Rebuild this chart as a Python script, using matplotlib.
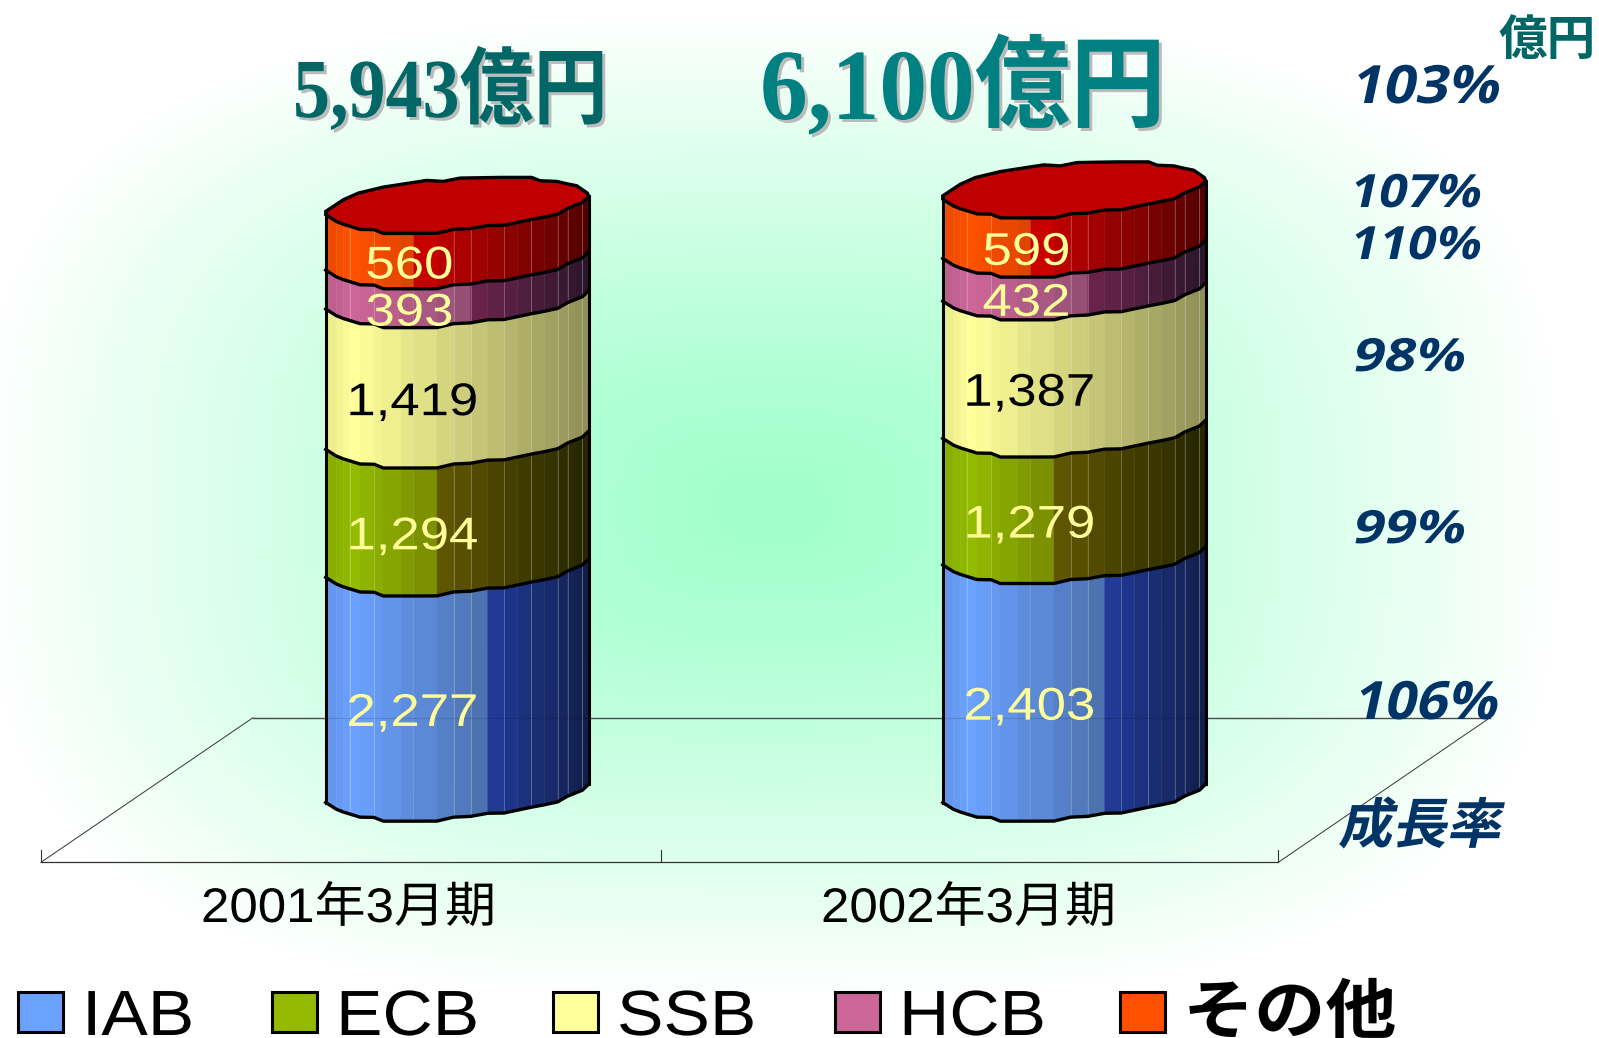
from matplotlib import pyplot
from matplotlib import patches
from matplotlib import patheffects
from matplotlib.colors import to_rgb
from matplotlib.transforms import Affine2D
import numpy as np

categories = ['2001年3月期', '2002年3月期']
series_names = ['IAB', 'ECB', 'SSB', 'HCB', 'その他']
iab_values = [2277, 2403]
ecb_values = [1294, 1279]
ssb_values = [1419, 1387]
hcb_values = [393, 432]
other_values = [560, 599]
value_labels = [['2,277', '1,294', '1,419', '393', '560'], ['2,403', '1,279', '1,387', '432', '599']]
total_labels = ['5,943億円', '6,100億円']
growth_labels = ['103%', '107%', '110%', '98%', '99%', '106%']

W, H = 1599, 1038
PX_PER_VALUE = 0.0989
BASE_Y = 802.5
BAR_LEFT = [325.7, 942.7]
SERIF = ['Liberation Serif', 'Noto Sans CJK JP']
SANS = ['Liberation Sans', 'Noto Sans CJK JP']
BOLD_SANS = ['Open Sans', 'Noto Sans CJK JP']

# cylinder shape, in pixels from the left corner of a band
edge_x = np.array([0, 9, 32, 53, 72, 103, 145, 173, 225, 263, 334, 384, 435, 486, 535, 576, 617, 656, 696, 726, 748, 770, 789]) / 3
front_x = np.array([0, 38, 103, 143, 173, 333, 383, 433, 488, 533, 618, 693, 723, 748, 773, 789]) / 3
front_y = np.array([0, 24, 44, 44, 56, 56, 44, 42, 32, 32, 14, 0, -18, -28, -38, -55]) / 3
back_x = np.array([789, 785, 753, 723, 693, 643, 618, 523, 403, 353, 303, 173, 98, 53, 0]) / 3
back_y = np.array([-55, -65, -87, -93, -100, -102, -112, -112, -110, -100, -103, -83, -65, -45, -10]) / 3
hairlines = np.array([72, 144, 384, 435, 534, 615, 697, 727, 770]) / 3

# lit colour, colour just before the break, first and last colour after it
shades = [
    ['#6BA1FF', '#486CA5', '#203A96', '#101C46'],
    ['#93BB00', '#738200', '#5F5500', '#232300'],
    ['#FFFF99', '#8C8C55', '#8C8C55', '#8C8C55'],
    ['#CC6699', '#8C4B6E', '#69234B', '#281428'],
    ['#FF5000', '#D74100', '#C80000', '#500000'],
]
breaks = [486, 334, 789, 435, 263]
swatch_colors = ['#6BA1FF', '#93B900', '#FFFF99', '#CC6699', '#FF5000']
label_colors = ['#FFFF99', '#FFFF99', 'black', '#FFFF99', '#FFFF99']


class Warp(patheffects.AbstractPathEffect):
    # squeezes or slants real text, matplotlib has no option for it
    def __init__(self, sx=1.0, sy=1.0, skew=0, dx=0, dy=0, color=None):
        self.sx, self.sy, self.skew, self.dx, self.dy = sx, sy, skew, dx, dy
        self.color = to_rgb(color) if color else None

    def draw_path(self, renderer, gc, tpath, affine, rgbFace=None):
        trans = Affine2D().scale(self.sx, self.sy).skew_deg(self.skew, 0) + affine + Affine2D().translate(self.dx, -self.dy)
        renderer.draw_path(gc, tpath, trans, self.color if self.color else rgbFace)


def hex_rgb(c):
    return np.array(to_rgb(c))


def strip_color(n, x):
    lit, mid, dark0, dark1 = shades[n]
    brk = breaks[n] / 3
    peak = 72 / 3
    if x < peak:
        return hex_rgb(lit) * (0.92 + 0.08 * x / peak)
    if x < brk - 0.01:
        t = (x - peak) / (brk - peak)
        return hex_rgb(lit) * (1 - t) + hex_rgb(mid) * t
    t = (x - brk) / (edge_x[-1] - brk)
    return hex_rgb(dark0) * (1 - t) + hex_rgb(dark1) * t


def draw_background(ax):
    xx, yy = np.meshgrid(np.arange(0, W, 3), np.arange(0, H, 3))
    dist = ((np.abs(xx - 770) / 790) ** 3 + (np.abs(yy - 505) / 490) ** 3) ** (1 / 3)
    t = np.clip(dist, 0, 1)[..., None] ** 1.3
    img = hex_rgb('#A0FFCC') * (1 - t) + np.array([1.0, 1.0, 1.0]) * t
    ax.imshow(img, extent=(0, W, H, 0), aspect='auto', interpolation='bilinear', zorder=0)


def draw_floor(ax):
    c = '#333333'
    ax.plot([253, 1490], [717.7, 717.7], color='#555555', linewidth=1.0, zorder=1)
    ax.plot([41, 1278.3], [862.3, 862.3], color=c, linewidth=0.9, zorder=1)
    ax.plot([41, 253], [862.3, 717.7], color=c, linewidth=0.7, zorder=1)
    ax.plot([1278.3, 1490], [862.3, 717.7], color=c, linewidth=0.7, zorder=1)
    for x in [41, 661, 1278.3]:
        ax.plot([x, x], [850, 862.3], color=c, linewidth=0.8, zorder=1)


def draw_cylinder(ax, left, values):
    tops = np.cumsum(values)
    bottoms = tops - np.array(values)
    fy = np.interp(edge_x, front_x, front_y) / PX_PER_VALUE
    for n in range(len(values)):
        low = bottoms[n] - fy
        high = tops[n] - fy
        for i in range(len(edge_x) - 1):
            xs = [left + edge_x[i], left + edge_x[i + 1], left + edge_x[i + 1], left + edge_x[i]]
            ys = [low[i], low[i + 1], high[i + 1], high[i]]
            ax.fill(xs, ys, color=strip_color(n, edge_x[i]), linewidth=0.3, zorder=3)
    for x in hairlines:
        ax.plot([left + x, left + x], [tops[-1] - np.interp(x, edge_x, fy), -np.interp(x, edge_x, fy)],
                color='white', alpha=0.28, linewidth=0.6, zorder=4)
    for n in range(len(values)):
        ax.plot(left + edge_x, bottoms[n] - fy, color='black', linewidth=2.4, zorder=5)
    rim_x = np.concatenate([left + edge_x, left + back_x])
    rim_y = np.concatenate([tops[-1] - fy, tops[-1] - back_y / PX_PER_VALUE])
    ax.fill(rim_x, rim_y, facecolor='#C00000', edgecolor='black', linewidth=2.4, zorder=6)
    ax.plot([left, left], [-fy[0], tops[-1] - back_y[-1] / PX_PER_VALUE], color='black', linewidth=2.2, zorder=6)
    ax.plot([left + edge_x[-1], left + edge_x[-1]], [-fy[-1], tops[-1] - fy[-1]], color='black', linewidth=2.2, zorder=6)


fig = pyplot.figure(figsize=(W / 100, H / 100), dpi=100)

# pixel axes for the backdrop and the floor
ax = fig.add_axes([0, 0, 1, 1])
draw_background(ax)
draw_floor(ax)
ax.set_xlim(0, W)
ax.set_ylim(H, 0)
ax.axis('off')

# value axes on top of it, same area, y runs in 億円
ax_val = fig.add_axes([0, 0, 1, 1], facecolor='none')
ax_val.set_xlim(0, W)
ax_val.set_ylim(-(H - BASE_Y) / PX_PER_VALUE, BASE_Y / PX_PER_VALUE)
ax_val.axis('off')

columns = [iab_values, ecb_values, ssb_values, hcb_values, other_values]
for b, left in enumerate(BAR_LEFT):
    vals = [col[b] for col in columns]
    draw_cylinder(ax_val, left, vals)
    cum = 0
    for n, v in enumerate(vals):
        # labels sit a little under the middle of the band
        ax_val.text(left + 78, cum + v / 2 - 24 / PX_PER_VALUE, value_labels[b][n], color=label_colors[n],
                    fontsize=33, family=SANS, ha='center', va='center', zorder=8, path_effects=[Warp(sx=1.15)])
        cum += v
ax_val.plot([253, 1490], [(BASE_Y - 717.7) / PX_PER_VALUE] * 2, color='black', alpha=0.12, linewidth=0.8, zorder=7)

# totals on top
shadow = dict(dx=3, dy=3, color='#BBBBBB')
ax_val.text(293, (BASE_Y - 117) / PX_PER_VALUE, total_labels[0], color='#006666', fontsize=65, family=SERIF,
            weight='bold', zorder=9, path_effects=[Warp(sx=0.82, sy=0.93, **shadow), Warp(sx=0.82, sy=0.93)])
ax_val.text(760, (BASE_Y - 119) / PX_PER_VALUE, total_labels[1], color='#008080', fontsize=79, family=SERIF,
            weight='bold', zorder=9, path_effects=[Warp(sx=0.87, sy=0.92, **shadow), Warp(sx=0.87, sy=0.92)])
ax_val.text(1498, (BASE_Y - 55) / PX_PER_VALUE, '億円', color='#006666', fontsize=35, family=BOLD_SANS,
            weight='bold', zorder=9)

# growth column
growth_x = [1349, 1347.5, 1347.5, 1351, 1351, 1351.5]
growth_y = [103, 207, 259, 371, 543, 719]
growth_size = [38, 33, 33, 33, 33, 38]
growth_sx = [1.08, 1.1, 1.1, 1.2, 1.2, 1.05]
for g, label in enumerate(growth_labels):
    ax_val.text(growth_x[g], (BASE_Y - growth_y[g]) / PX_PER_VALUE, label, color='#003366', fontsize=growth_size[g],
                family=BOLD_SANS, weight='bold', zorder=9, path_effects=[Warp(sx=growth_sx[g], skew=12)])
ax_val.text(1338, (BASE_Y - 843) / PX_PER_VALUE, '成長率', color='#003366', fontsize=39, family=BOLD_SANS,
            weight='bold', zorder=9, path_effects=[Warp(skew=12)])

# category labels
cat_x = [201, 821]
for c, label in enumerate(categories):
    ax_val.text(cat_x[c], (BASE_Y - 922) / PX_PER_VALUE, label, fontsize=35, family=SANS, color='black', zorder=9,
                path_effects=[Warp(sx=1.05)])

# legend by hand, it is spread over the whole width
swatch_x = [18, 272, 553, 835, 1120]
text_x = [82, 336, 617, 899, 1183]
for n, name in enumerate(series_names):
    ax_val.add_patch(patches.Rectangle((swatch_x[n], (BASE_Y - 1032) / PX_PER_VALUE), 45, 40 / PX_PER_VALUE,
                                       facecolor=swatch_colors[n], edgecolor='black', linewidth=2.2, zorder=9))
    if n == 4:
        ax_val.text(text_x[n], (BASE_Y - 1033) / PX_PER_VALUE, name, fontsize=47, family=BOLD_SANS, weight='bold',
                    zorder=9, path_effects=[Warp(sx=1.09)])
    else:
        ax_val.text(text_x[n], (BASE_Y - 1035) / PX_PER_VALUE, name, fontsize=46, family=SANS, zorder=9,
                    path_effects=[Warp(sx=1.09)])

pyplot.savefig('out.png', dpi=100)
